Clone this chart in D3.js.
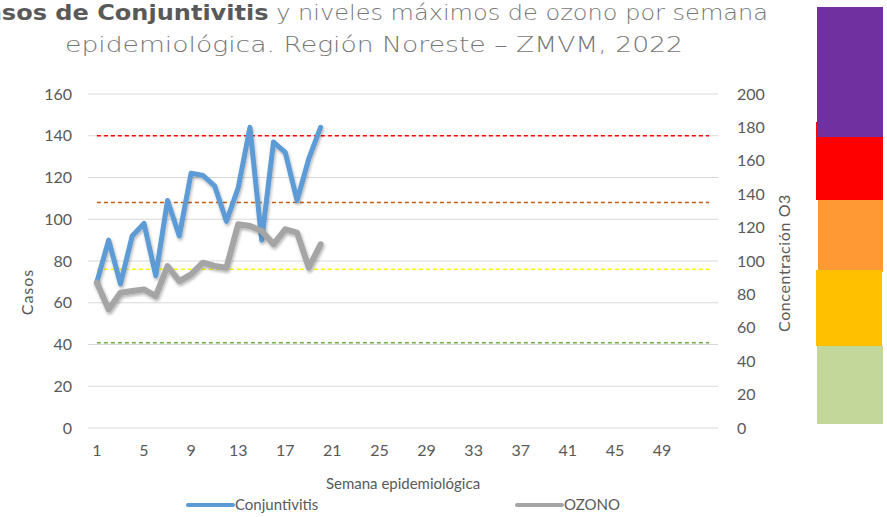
<!DOCTYPE html>
<html>
<head>
<meta charset="utf-8">
<script src="https://cdn.jsdelivr.net/npm/d3@7"></script>
<style>
  body { margin: 0; background: #fff; }
  svg { display: block; }
</style>
</head>
<body>
<div id="chart"></div>
<script>
// Datos
const semanas = d3.range(1, 54);
const semanasEtiqueta = [1, 5, 9, 13, 17, 21, 25, 29, 33, 37, 41, 45, 49];
const conjuntivitis = [70, 90, 69, 92, 98, 73, 109, 92, 122, 121, 116, 99, 115, 144, 90, 137, 132, 109, 129, 144];
const ozono = [87, 71, 81, 82, 83, 79, 97, 88, 92, 99, 97, 96, 122, 121, 118, 110, 119, 117, 96, 110];
const ticksCasos = [0, 20, 40, 60, 80, 100, 120, 140, 160];
const ticksOzono = [0, 20, 40, 60, 80, 100, 120, 140, 160, 180, 200];
const umbrales = [51, 95, 135, 175];
const coloresUmbral = ["#70AD47", "#FFFF00", "#C55A11", "#FF0000"];
const categoriasColor = ["#C4D79B", "#FFC000", "#FF9933", "#FF0000", "#7030A0"];

function dibujarGrafica(selector) {
    const width = 887, height = 517;

    const svg = d3.select(selector)
        .append("svg")
        .attr("width", width)
        .attr("height", height)
        .style("font-family", "Lato, 'Open Sans', sans-serif");

    // Sombra de las líneas
    const filtro = svg.append("defs").append("filter")
        .attr("id", "sombra")
        .attr("x", "-10%").attr("y", "-10%")
        .attr("width", "120%").attr("height", "130%");
    filtro.append("feDropShadow")
        .attr("dx", 1).attr("dy", 2)
        .attr("stdDeviation", 1.6)
        .attr("flood-color", "#000")
        .attr("flood-opacity", 0.3);

    // Escalas
    const x = d3.scaleBand().domain(semanas).range([91, 715]);
    const cx = d => x(d) + x.bandwidth() / 2;
    const yL = d3.scaleLinear().domain([0, 160]).range([428, 94]);
    const yR = d3.scaleLinear().domain([0, 200]).range([428, 94]);

    // Título (la primera línea queda recortada a la izquierda, como en el original)
    const titulo = svg.append("text")
        .attr("x", -32).attr("y", 20)
        .attr("textLength", 800)
        .attr("lengthAdjust", "spacingAndGlyphs")
        .style("font-family", "'DejaVu Sans', sans-serif")
        .style("font-size", "22px")
        .style("fill", "#767676");
    titulo.append("tspan").text("Casos de Conjuntivitis")
        .style("font-weight", "bold").style("fill", "#595959");
    titulo.append("tspan").text(" y niveles máximos de ozono por semana")
        .style("font-weight", "200");
    svg.append("text")
        .attr("x", 374).attr("y", 52)
        .attr("text-anchor", "middle")
        .attr("textLength", 618)
        .attr("lengthAdjust", "spacingAndGlyphs")
        .style("font-family", "'DejaVu Sans', sans-serif")
        .style("font-weight", "200")
        .style("font-size", "22px")
        .style("fill", "#767676")
        .text("epidemiológica. Región Noreste – ZMVM, 2022");

    // Líneas de cuadrícula
    svg.append("g").selectAll("line")
        .data(ticksCasos)
        .join("line")
        .attr("x1", 88).attr("x2", 718)
        .attr("y1", d => yL(d)).attr("y2", d => yL(d))
        .style("stroke", "#D9D9D9")
        .style("stroke-width", 1);

    // Ejes (solo etiquetas)
    const ejeIzq = d3.axisLeft(yL).tickValues(ticksCasos).tickSize(0).tickPadding(0);
    const gIzq = svg.append("g").attr("transform", "translate(72,0)").call(ejeIzq);
    const ejeDer = d3.axisRight(yR).tickValues(ticksOzono).tickSize(0).tickPadding(0);
    const gDer = svg.append("g").attr("transform", "translate(737,0)").call(ejeDer);
    const ejeX = d3.axisBottom(x).tickValues(semanasEtiqueta).tickSize(0).tickPadding(0);
    const gX = svg.append("g").attr("transform", "translate(0,445)").call(ejeX);
    [gIzq, gDer, gX].forEach(g => {
        g.select(".domain").remove();
        g.selectAll("text")
            .style("font-family", "Lato, sans-serif")
            .style("font-size", "16px")
            .style("fill", "#595959");
    });

    // Títulos de ejes
    svg.append("text")
        .attr("transform", "translate(33,292) rotate(-90)")
        .attr("text-anchor", "middle")
        .style("font-size", "16px")
        .style("fill", "#595959")
        .style("letter-spacing", "1px")
        .text("Casos");
    svg.append("text")
        .attr("transform", "translate(790,263) rotate(-90)")
        .attr("text-anchor", "middle")
        .style("font-size", "16px")
        .style("fill", "#595959")
        .style("letter-spacing", "0.6px")
        .text("Concentración O3");
    svg.append("text")
        .attr("x", 403).attr("y", 489)
        .attr("text-anchor", "middle")
        .style("font-size", "15px")
        .style("fill", "#595959")
        .text("Semana epidemiológica");

    // Umbrales de ozono (líneas discontinuas)
    const linea = d3.line();
    svg.append("g").selectAll("path")
        .data(umbrales)
        .join("path")
        .attr("d", u => linea(semanas.map(s => [cx(s), yR(u)])))
        .style("fill", "none")
        .style("stroke", (u, i) => coloresUmbral[i])
        .style("stroke-width", 1.5)
        .style("stroke-dasharray", "4 3");

    // Serie Conjuntivitis
    svg.append("path")
        .datum(conjuntivitis)
        .attr("d", d3.line().x((d, i) => cx(semanas[i])).y(d => yL(d)))
        .attr("filter", "url(#sombra)")
        .style("fill", "none")
        .style("stroke", "#5B9BD5")
        .style("stroke-width", 5)
        .style("stroke-linejoin", "round")
        .style("stroke-linecap", "round");

    // Serie Ozono
    svg.append("path")
        .datum(ozono)
        .attr("d", d3.line().x((d, i) => cx(semanas[i])).y(d => yR(d)))
        .attr("filter", "url(#sombra)")
        .style("fill", "none")
        .style("stroke", "#A5A5A5")
        .style("stroke-width", 6)
        .style("stroke-linejoin", "round")
        .style("stroke-linecap", "round");

    // Barra de colores a la derecha
    const bloques = [
        {y0: 346, y1: 424, x0: 817, x1: 883},
        {y0: 270, y1: 346, x0: 816, x1: 882},
        {y0: 200, y1: 272, x0: 818, x1: 883},
        {y0: 122, y1: 200, x0: 816, x1: 883},
        {y0: 7, y1: 137, x0: 817, x1: 883}
    ];
    // orden de dibujo: rojo, naranja, amarillo, verde, morado
    [3, 2, 1, 0, 4].forEach(i => {
        const b = bloques[i];
        svg.append("rect")
            .attr("x", b.x0).attr("y", b.y0)
            .attr("width", b.x1 - b.x0).attr("height", b.y1 - b.y0)
            .style("fill", categoriasColor[i]);
    });

    // Leyenda
    const leyenda = [
        {nombre: "Conjuntivitis", color: "#5B9BD5", x: 188},
        {nombre: "OZONO", color: "#A5A5A5", x: 517}
    ];
    const gl = svg.append("g").selectAll("g")
        .data(leyenda)
        .join("g")
        .attr("transform", d => `translate(${d.x},505)`);
    gl.append("line")
        .attr("x1", 0).attr("x2", 45)
        .style("stroke", d => d.color)
        .style("stroke-width", 4)
        .style("stroke-linecap", "round");
    gl.append("text")
        .attr("x", 47).attr("dy", "0.35em")
        .style("font-size", "15px")
        .style("fill", "#595959")
        .text(d => d.nombre);
}

dibujarGrafica("#chart");
</script>
</body>
</html>
